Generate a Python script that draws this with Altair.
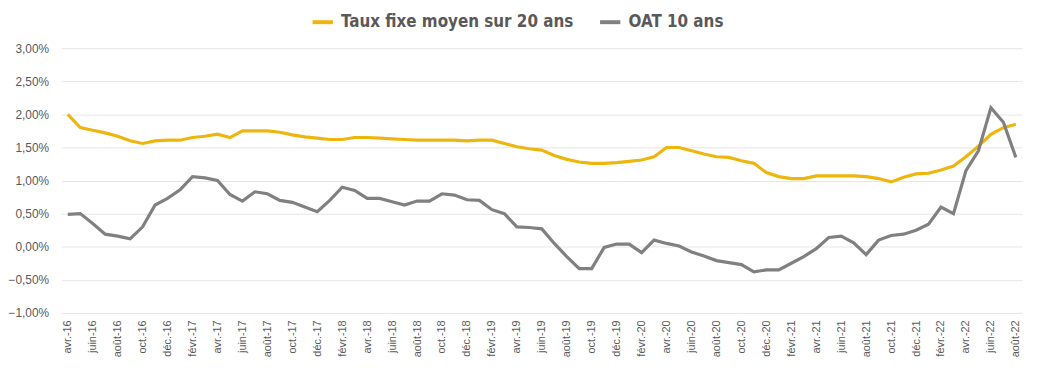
import altair as alt
import pandas as pd

months = ["avr.-16", "mai-16", "juin-16", "juil.-16", "août-16", "sept.-16", "oct.-16", "nov.-16", "déc.-16",
          "janv.-17", "févr.-17", "mars-17", "avr.-17", "mai-17", "juin-17", "juil.-17", "août-17", "sept.-17", "oct.-17", "nov.-17", "déc.-17",
          "janv.-18", "févr.-18", "mars-18", "avr.-18", "mai-18", "juin-18", "juil.-18", "août-18", "sept.-18", "oct.-18", "nov.-18", "déc.-18",
          "janv.-19", "févr.-19", "mars-19", "avr.-19", "mai-19", "juin-19", "juil.-19", "août-19", "sept.-19", "oct.-19", "nov.-19", "déc.-19",
          "janv.-20", "févr.-20", "mars-20", "avr.-20", "mai-20", "juin-20", "juil.-20", "août-20", "sept.-20", "oct.-20", "nov.-20", "déc.-20",
          "janv.-21", "févr.-21", "mars-21", "avr.-21", "mai-21", "juin-21", "juil.-21", "août-21", "sept.-21", "oct.-21", "nov.-21", "déc.-21",
          "janv.-22", "févr.-22", "mars-22", "avr.-22", "mai-22", "juin-22", "juil.-22", "août-22"]

taux_fixe = [2.00, 1.80, 1.76, 1.72, 1.67, 1.60, 1.56, 1.60, 1.61,
             1.61, 1.65, 1.67, 1.70, 1.65, 1.75, 1.75, 1.75, 1.73, 1.69, 1.66, 1.64,
             1.62, 1.62, 1.65, 1.65, 1.64, 1.63, 1.62, 1.61, 1.61, 1.61, 1.61, 1.60,
             1.61, 1.61, 1.56, 1.51, 1.48, 1.46, 1.38, 1.32, 1.28, 1.26, 1.26, 1.27,
             1.29, 1.31, 1.36, 1.50, 1.50, 1.45, 1.40, 1.36, 1.35, 1.30, 1.26, 1.12,
             1.06, 1.03, 1.03, 1.07, 1.07, 1.07, 1.07, 1.06, 1.03, 0.98, 1.05, 1.10,
             1.11, 1.16, 1.22, 1.36, 1.52, 1.70, 1.80, 1.85]

oat_10 = [0.49, 0.50, 0.35, 0.19, 0.16, 0.12, 0.30, 0.63, 0.73,
          0.86, 1.06, 1.04, 1.00, 0.79, 0.69, 0.83, 0.80, 0.70, 0.67, 0.60, 0.53,
          0.70, 0.90, 0.85, 0.73, 0.73, 0.68, 0.63, 0.69, 0.69, 0.80, 0.78, 0.71,
          0.70, 0.56, 0.50, 0.30, 0.29, 0.27, 0.05, -0.15, -0.33, -0.33, -0.01, 0.04,
          0.04, -0.09, 0.10, 0.05, 0.01, -0.08, -0.14, -0.21, -0.24, -0.27, -0.38, -0.35,
          -0.35, -0.25, -0.15, -0.03, 0.14, 0.16, 0.06, -0.12, 0.10, 0.17, 0.19, 0.25,
          0.34, 0.60, 0.50, 1.15, 1.45, 2.10, 1.88, 1.35]

series_names = ["Taux fixe moyen sur 20 ans", "OAT 10 ans"]
series_colors = ["#EDB60F", "#808080"]
y_ticks = [-1.0, -0.5, 0.0, 0.5, 1.0, 1.5, 2.0, 2.5, 3.0]
x_labels = months[::2]

rows = []
for i, m in enumerate(months):
    rows.append({"mois": m, "serie": series_names[0], "valeur": taux_fixe[i], "ordre": 0})
    rows.append({"mois": m, "serie": series_names[1], "valeur": oat_10[i], "ordre": 1})
df = pd.DataFrame(rows)

legend_font = "'Liberation Sans Narrow', 'DejaVu Sans Condensed', 'Liberation Sans', sans-serif"

chart = alt.Chart(df).mark_line(strokeWidth=3.2).encode(
    x=alt.X("mois:O", sort=months, scale=alt.Scale(paddingOuter=0.5),
            axis=alt.Axis(title=None, values=x_labels, labelAngle=270, ticks=False, domain=False,
                          grid=False, labelFontSize=11, labelColor="#595959", labelPadding=7,
                          labelFont="Liberation Sans")),
    y=alt.Y("valeur:Q", scale=alt.Scale(domain=[-1, 3], nice=False, zero=False),
            axis=alt.Axis(title=None, values=y_ticks, ticks=False, domain=False,
                          labelExpr="replace(format(datum.value, '.2f'), '.', ',') + '%'",
                          labelFontSize=12, labelColor="#595959", labelPadding=13,
                          labelFont="Liberation Sans", gridColor="#E6E6E6", gridWidth=1)),
    color=alt.Color("serie:N", scale=alt.Scale(domain=series_names, range=series_colors),
                    legend=alt.Legend(title=None, orient="none", direction="horizontal",
                                      legendX=251, legendY=-39, symbolType="stroke",
                                      symbolStrokeWidth=4, symbolSize=420,
                                      labelFontSize=17, labelFont=legend_font, labelLimit=400,
                                      labelFontWeight="bold", labelColor="#595959",
                                      columnPadding=18, labelOffset=6)),
    order="ordre:Q",
    detail="serie:N",
).properties(
    width=969, height=267,
    autosize=alt.AutoSizeParams(type="none"),
    padding={"left": 54, "top": 39, "right": 10, "bottom": 50},
).configure_view(stroke=None)

chart.save("out.html", embed_options={"renderer": "svg", "actions": False})
